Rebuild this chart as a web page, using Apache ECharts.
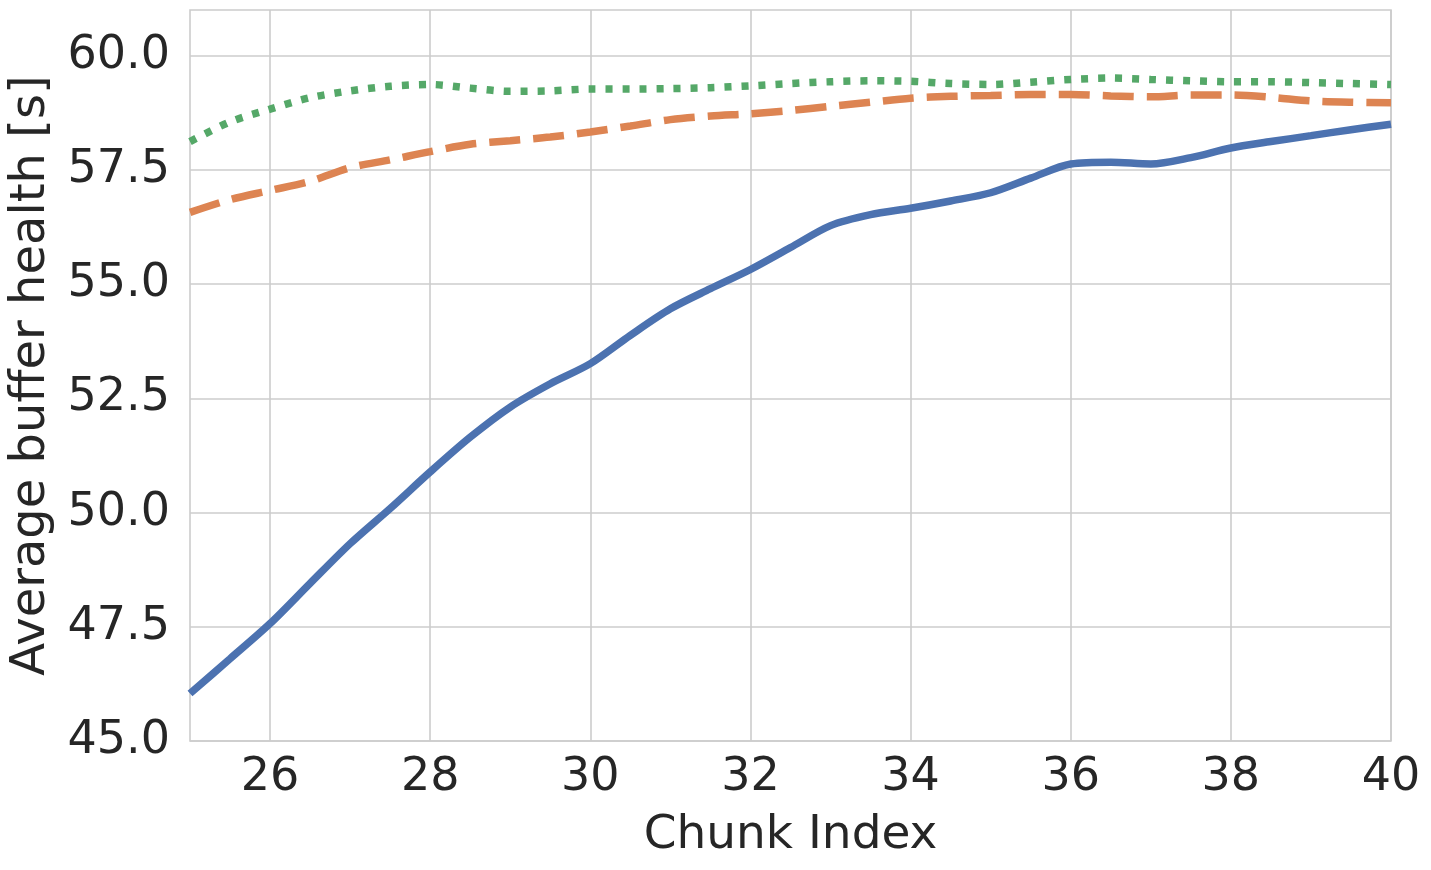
<!DOCTYPE html>
<html>
<head>
<meta charset="utf-8">
<script src="https://cdn.jsdelivr.net/npm/echarts@6/dist/echarts.min.js"></script>
<style>
  html, body { margin: 0; padding: 0; background: #fff; }
  #chart { width: 1431px; height: 870px; }
</style>
</head>
<body>
<div id="chart"></div>
<script>
// chunk index, sampled every half chunk
var chunkIndex = [25, 25.5, 26, 26.5, 27, 27.5, 28, 28.5, 29, 29.5, 30, 30.5, 31, 31.5, 32,
  32.5, 33, 33.5, 34, 34.5, 35, 35.5, 36, 36.5, 37, 37.5, 38, 38.5, 39, 39.5, 40];

// blue, solid
var solidValues = [46.04, 46.80, 47.57, 48.45, 49.32, 50.09, 50.89, 51.65, 52.31, 52.82, 53.26,
  53.88, 54.46, 54.90, 55.32, 55.80, 56.28, 56.52, 56.66, 56.82, 57.00, 57.32, 57.63, 57.67,
  57.63, 57.77, 57.98, 58.12, 58.25, 58.38, 58.50];

// orange, dashed
var dashedValues = [56.57, 56.85, 57.05, 57.25, 57.55, 57.72, 57.90, 58.06, 58.14, 58.22, 58.33,
  58.46, 58.60, 58.68, 58.73, 58.80, 58.89, 58.98, 59.07, 59.11, 59.13, 59.15, 59.15, 59.12,
  59.10, 59.14, 59.14, 59.09, 59.01, 58.98, 58.97];

// green, dotted
var dottedValues = [58.12, 58.55, 58.83, 59.08, 59.23, 59.33, 59.37, 59.29, 59.22, 59.23, 59.27,
  59.27, 59.28, 59.30, 59.34, 59.39, 59.43, 59.45, 59.44, 59.39, 59.37, 59.42, 59.48, 59.51,
  59.48, 59.45, 59.43, 59.43, 59.41, 59.39, 59.37];

var xTicks = [26, 28, 30, 32, 34, 36, 38, 40];
var yTicks = [45, 47.5, 50, 52.5, 55, 57.5, 60];

function pairs(values) {
  return chunkIndex.map(function (x, i) { return [x, values[i]]; });
}

var textColor = "#262626";
var gridColor = "#cccccc";
var fontFamily = "DejaVu Sans";

var myChart = echarts.init(document.getElementById("chart"), null, {renderer: "canvas"});
var option = {
  backgroundColor: "#ffffff",
  animation: false,
  grid: {
    left: 189,
    right: 40,
    top: 10,
    bottom: 129,
    show: true,
    borderColor: gridColor,
    borderWidth: 1.6
  },
  xAxis: {
    type: "value",
    min: 25,
    max: 40,
    name: "Chunk Index",
    nameLocation: "middle",
    nameGap: 71,
    nameTextStyle: {fontSize: 47, color: textColor, fontFamily: fontFamily},
    axisLine: {show: false},
    axisTick: {show: false, customValues: xTicks},
    axisLabel: {
      customValues: xTicks,
      fontSize: 46,
      color: textColor,
      fontFamily: fontFamily,
      margin: 14
    },
    splitLine: {show: true, lineStyle: {color: gridColor, width: 1.6}}
  },
  yAxis: {
    type: "value",
    min: 45,
    max: 61,
    name: "Average buffer health [s]",
    nameLocation: "middle",
    nameGap: 134,
    nameTextStyle: {fontSize: 48, color: textColor, fontFamily: fontFamily},
    axisLine: {show: false},
    axisTick: {show: false, customValues: yTicks},
    axisLabel: {
      customValues: yTicks,
      fontSize: 46,
      color: textColor,
      fontFamily: fontFamily,
      margin: 20,
      formatter: function (v) { return v.toFixed(1); }
    },
    splitLine: {show: true, lineStyle: {color: gridColor, width: 1.6}}
  },
  series: [
    {
      type: "line",
      data: pairs(solidValues),
      smooth: 0.3,
      showSymbol: false,
      clip: true,
      lineStyle: {color: "#4c72b0", width: 7.5, cap: "butt"}
    },
    {
      type: "line",
      data: pairs(dashedValues),
      smooth: 0.3,
      showSymbol: false,
      clip: true,
      lineStyle: {color: "#dd8452", width: 7.5, type: [31, 13], cap: "butt"}
    },
    {
      type: "line",
      data: pairs(dottedValues),
      smooth: 0.3,
      showSymbol: false,
      clip: true,
      lineStyle: {color: "#55a868", width: 7.5, type: [7, 10], cap: "butt"}
    }
  ]
};
myChart.setOption(option);
</script>
</body>
</html>
